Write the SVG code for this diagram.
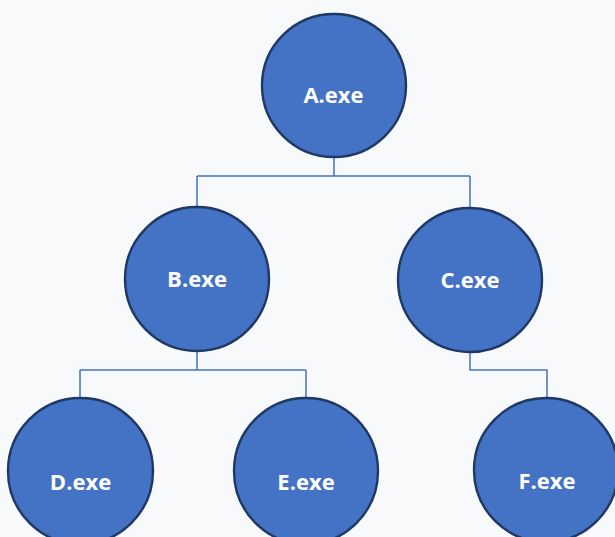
<svg xmlns="http://www.w3.org/2000/svg" width="615" height="537" viewBox="0 0 615 537">
<style>
.node{fill:#4472C4;stroke:#1F3864;stroke-width:2.4}
.lbl{font-family:"Open Sans","Liberation Sans",sans-serif;font-weight:700;font-size:22px;fill:#FFFFFF;text-anchor:middle}
.conn{fill:none;stroke:#4472C4;stroke-width:1.5}
</style>
<rect x="0" y="0" width="615" height="537" fill="#F7F9FB"/>
<g id="connectors">
<path class="conn" d="M334 157 V176 M197 176 H470 M197 176 V207 M470 176 V208"/>
<path class="conn" d="M197 351 V370 M80 370 H306 M80 370 V398 M306 370 V398"/>
<path class="conn" d="M470 352 V370 H547 V398"/>
</g>
<g id="nodeA"><ellipse class="node" cx="334" cy="85.5" rx="72" ry="71.5"/><text class="lbl" x="333.5" y="102.5">A.exe</text></g>
<g id="nodeB"><ellipse class="node" cx="197" cy="279" rx="72" ry="72"/><text class="lbl" x="197" y="286.5">B.exe</text></g>
<g id="nodeC"><ellipse class="node" cx="470" cy="280" rx="72" ry="72"/><text class="lbl" x="470" y="287.5">C.exe</text></g>
<g id="nodeD"><ellipse class="node" cx="80.5" cy="471" rx="72.5" ry="73"/><text class="lbl" x="80.5" y="490">D.exe</text></g>
<g id="nodeE"><ellipse class="node" cx="306" cy="471" rx="72" ry="73"/><text class="lbl" x="306" y="490">E.exe</text></g>
<g id="nodeF"><ellipse class="node" cx="546" cy="470" rx="72" ry="72"/><text class="lbl" x="547" y="489">F.exe</text></g>
</svg>
